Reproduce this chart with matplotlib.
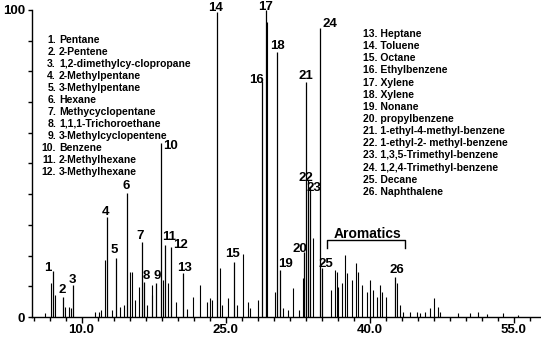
#!/usr/bin/env python3
"""Gas chromatogram with numbered peak assignments."""

import matplotlib

matplotlib.use("Agg")
import matplotlib.pyplot as plt
from matplotlib.ticker import FixedLocator, MultipleLocator

# retention time (min) and relative abundance (%) of the labelled peaks
PEAK_NUM = list(range(1, 27))
PEAK_TIME = [7.00, 8.10, 9.08, 12.63, 13.59, 14.71, 16.27, 16.55, 17.76, 18.28,
             18.70, 19.29, 20.60, 24.08, 25.89, 28.77, 29.22, 30.33, 30.68, 33.18,
             33.39, 33.56, 33.80, 34.84, 35.02, 42.66]
PEAK_HEIGHT = [15.1, 6.6, 10.4, 32.6, 19.2, 40.4, 24.5, 11.5, 11.1, 56.6,
               23.5, 22.9, 14.4, 99.5, 18.0, 76.9, 100.0, 86.4, 15.3, 21.2,
               76.6, 44.6, 42.4, 94.0, 16.0, 13.1]

# unlabelled peaks
MINOR_TIME = [6.20, 6.82, 7.24, 8.28, 8.73, 8.88, 11.41, 11.82, 12.03, 12.45,
              13.15, 14.01, 14.43, 15.05, 15.29, 15.57, 16.02, 16.82, 17.31, 17.38,
              18.49, 19.04, 19.84, 20.96, 21.58, 22.34, 23.10, 23.39, 23.59, 24.43,
              24.60, 25.29, 26.23, 26.79, 27.38, 27.55, 28.39, 29.35, 30.16, 31.02,
              31.54, 32.06, 32.66, 33.10, 34.11, 35.96, 36.41, 36.58, 36.75, 37.10,
              37.45, 37.69, 38.15, 38.59, 38.83, 39.19, 39.71, 40.05, 40.40, 40.75,
              41.09, 41.27, 41.72, 42.90, 43.18, 43.52, 44.22, 44.92, 45.26, 45.78,
              46.30, 46.75, 47.10, 47.34, 49.22, 50.47, 51.33, 52.21, 53.94, 55.47]
MINOR_HEIGHT = [1.3, 11.1, 7.2, 3.4, 3.3, 2.9, 1.6, 1.6, 2.3, 18.6,
                2.3, 3.3, 3.9, 14.8, 14.8, 5.5, 9.9, 3.9, 7.2, 10.4,
                12.0, 11.1, 5.0, 2.6, 6.6, 10.4, 5.0, 6.2, 5.5, 16.0,
                3.9, 6.2, 3.9, 20.4, 5.0, 2.9, 5.5, 96.0, 8.2, 2.9,
                2.3, 9.4, 2.3, 12.7, 25.7, 8.8, 15.3, 14.7, 9.8, 11.1,
                20.2, 14.3, 12.1, 17.6, 14.7, 10.4, 8.1, 12.1, 8.8, 6.5,
                10.4, 8.1, 6.5, 11.1, 3.9, 1.7, 1.7, 1.7, 1.3, 1.7,
                2.9, 6.3, 3.4, 1.7, 1.3, 1.3, 1.7, 1.0, 1.3, 0.7]

COMPOUNDS = ["Pentane", "2-Pentene", "1,2-dimethylcy-clopropane", "2-Methylpentane",
             "3-Methylpentane", "Hexane", "Methycyclopentane", "1,1,1-Trichoroethane",
             "3-Methylcyclopentene", "Benzene", "2-Methylhexane", "3-Methylhexane",
             "Heptane", "Toluene", "Octane", "Ethylbenzene", "Xylene", "Xylene",
             "Nonane", "propylbenzene", "1-ethyl-4-methyl-benzene",
             "1-ethyl-2- methyl-benzene", "1,3,5-Trimethyl-benzene",
             "1,2,4-Trimethyl-benzene", "Decane", "Naphthalene"]

X_TICKS = [10.0, 25.0, 40.0, 55.0]

# where each peak number is written (data coords)
LABEL_POS = [(6.51, 16.0), (7.97, 8.8), (9.01, 12.1), (12.45, 34.2), (13.39, 21.8),
             (14.64, 42.7), (16.09, 26.4), (16.72, 13.4), (17.86, 13.4), (19.22, 55.7),
             (19.11, 26.1), (20.36, 23.5), (20.78, 16.0), (24.01, 100.7), (25.68, 20.5),
             (28.18, 77.2), (29.22, 101.0), (30.36, 88.3), (31.20, 17.3), (32.76, 22.1),
             (33.39, 78.5), (33.39, 45.3), (34.22, 42.0), (35.89, 95.4), (35.47, 17.3),
             (42.86, 15.3)]

W, H = 541, 337
AX_L, AX_B, AX_W, AX_H = 32, 20, 509, 307


def ax_frac(px, py):
    # pixel position in the picture -> axes fraction
    return (px - AX_L) / AX_W, (H - AX_B - py) / AX_H


def main():
    plt.rcParams["font.family"] = ["Liberation Sans Narrow", "Liberation Sans", "DejaVu Sans"]
    plt.rcParams["font.weight"] = "bold"

    fig = plt.figure(figsize=(W / 100, H / 100), dpi=100)
    ax = fig.add_axes([AX_L / W, AX_B / H, AX_W / W, AX_H / H])

    ax.vlines(MINOR_TIME, 0, MINOR_HEIGHT, color="black", linewidth=0.8)
    ax.vlines(PEAK_TIME, 0, PEAK_HEIGHT, color="black", linewidth=0.9)

    ax.set_xlim(4.84, 57.86)
    ax.set_ylim(0, 100)

    for spine in ("top", "right"):
        ax.spines[spine].set_visible(False)
    ax.spines["left"].set_linewidth(1.0)
    ax.spines["bottom"].set_linewidth(1.0)

    ax.set_xticks(X_TICKS)
    ax.set_xticklabels([f"{t:.1f}" for t in X_TICKS])
    ax.xaxis.set_minor_locator(MultipleLocator(15 / 9))
    ax.set_yticks([0, 100])
    ax.set_yticklabels(["0", "100"])
    ax.yaxis.set_minor_locator(FixedLocator(range(10, 100, 10)))
    ax.tick_params(axis="x", which="major", length=4, width=1, pad=1, labelsize=9.5)
    ax.tick_params(axis="x", which="minor", length=3, width=1)
    ax.tick_params(axis="y", which="major", length=3, width=1, pad=2, labelsize=9.5)
    ax.tick_params(axis="y", which="minor", length=3, width=1)

    for num, (lx, ly) in zip(PEAK_NUM, LABEL_POS):
        ax.text(lx, ly, str(num), ha="center", va="center", fontsize=9.5, fontweight="bold")

    # compound list, two columns
    for i, name in enumerate(COMPOUNDS[:12]):
        py = 40 + 12.0 * i
        x0, y0 = ax_frac(56, py)
        x1, _ = ax_frac(59, py)
        ax.text(x0, y0, f"{i + 1}.", transform=ax.transAxes, ha="right", va="center", fontsize=7.5)
        ax.text(x1, y0, name, transform=ax.transAxes, ha="left", va="center", fontsize=7.5)
    for i, name in enumerate(COMPOUNDS[12:]):
        py = 34 + 12.15 * i
        x0, y0 = ax_frac(363, py)
        ax.text(x0, y0, f"{i + 13}. {name}", transform=ax.transAxes, ha="left", va="center", fontsize=7.5)

    # Aromatics bracket
    bx0, by_top = ax_frac(327, 240)
    bx1, by_bot = ax_frac(405, 248)
    ax.plot([bx0, bx0, bx1, bx1], [by_bot, by_top, by_top, by_bot], transform=ax.transAxes,
            color="black", linewidth=1.0, clip_on=False)
    tx, ty = ax_frac(368, 234)
    ax.text(tx, ty, "Aromatics", transform=ax.transAxes, ha="center", va="center",
            fontsize=10, fontweight="bold")

    fig.savefig("out.png", dpi=100)
    plt.close(fig)


if __name__ == "__main__":
    main()
